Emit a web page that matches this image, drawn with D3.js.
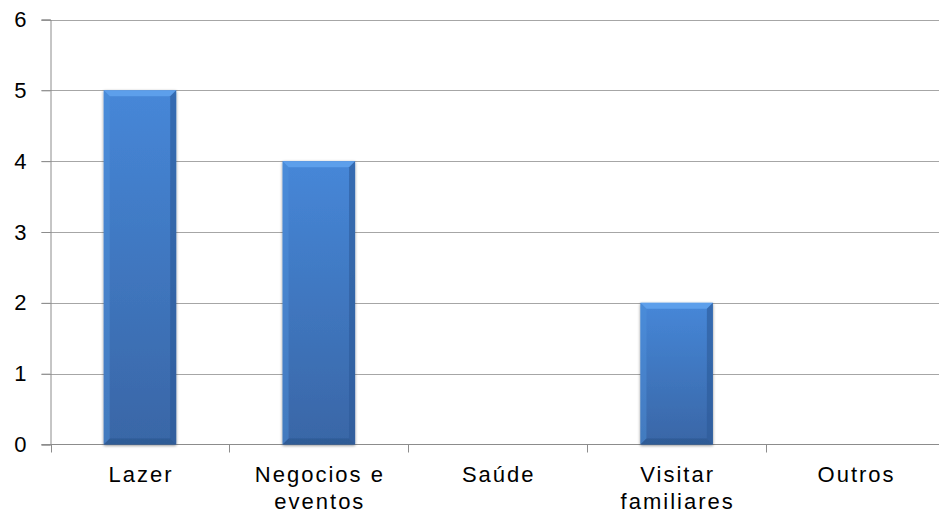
<!DOCTYPE html>
<html><head><meta charset="utf-8">
<script src="https://cdn.jsdelivr.net/npm/d3@7"></script>
<style>
html,body{margin:0;padding:0;background:#fff;overflow:hidden;}
svg{display:block;font-family:"Liberation Sans",Arial,sans-serif;}
</style></head>
<body>
<svg id="chart" width="939" height="513"></svg>
<script>
const categories = ["Lazer", "Negocios e eventos", "Saúde", "Visitar familiares", "Outros"];
const values = [5, 4, 0, 2, 0];
const yTicks = [0, 1, 2, 3, 4, 5, 6];

const svg = d3.select("#chart");
const m = {left: 50.5, top: 19.5, right: 945, bottom: 444.5};

const x = d3.scaleBand().domain(categories).range([m.left, m.right]).paddingInner(0.595).paddingOuter(0.2975);
const xb = d3.scaleBand().domain(categories).range([m.left, m.right]);
const y = d3.scaleLinear().domain([0, 6]).range([m.bottom, m.top]);

const defs = svg.append("defs");
const g1 = defs.append("linearGradient").attr("id", "body").attr("x1", 0).attr("x2", 0).attr("y1", 0).attr("y2", 1);
g1.append("stop").attr("offset", "0%").attr("stop-color", "#4687d8");
g1.append("stop").attr("offset", "100%").attr("stop-color", "#3966a6");
const f = defs.append("filter").attr("id", "sh").attr("x", "-20%").attr("y", "-20%").attr("width", "140%").attr("height", "140%");
f.append("feGaussianBlur").attr("in", "SourceAlpha").attr("stdDeviation", 1.6).attr("result", "b");
f.append("feOffset").attr("in", "b").attr("dx", 0).attr("dy", 0.5).attr("result", "o");
f.append("feComponentTransfer").attr("in", "o").attr("result", "o2")
  .append("feFuncA").attr("type", "linear").attr("slope", 0.45);
const mg = f.append("feMerge");
mg.append("feMergeNode").attr("in", "o2");
mg.append("feMergeNode").attr("in", "SourceGraphic");

// gridlines
svg.append("g").selectAll("line").data(yTicks.filter(d => d > 0)).join("line")
  .attr("x1", m.left - 9).attr("x2", 939)
  .attr("y1", d => Math.round(y(d)) + 0.5).attr("y2", d => Math.round(y(d)) + 0.5)
  .attr("stroke", "#a6a6a6").attr("stroke-width", 1);

// y axis
const yAxis = d3.axisLeft(y).tickValues(yTicks).tickSize(9).tickPadding(15).tickFormat(d3.format("d"));
const ya = svg.append("g").attr("transform", `translate(${m.left},0)`).call(yAxis);
ya.attr("font-size", null).attr("font-family", null);
ya.select(".domain").attr("stroke", "#8c8c8c");
ya.selectAll(".tick line").attr("stroke", "#8c8c8c");
ya.selectAll(".tick text").style("font-size", "22px").attr("fill", "#000")
  .style("font-family", "Liberation Sans, Arial, sans-serif");

// x axis line + category separators
const xa = svg.append("g").attr("transform", `translate(0,${m.bottom})`);
xa.append("line").attr("x1", m.left - 9).attr("x2", 939).attr("y1", 0).attr("y2", 0).attr("stroke", "#8c8c8c");
const seps = categories.map(c => xb(c)).concat([m.right]);
xa.selectAll("line.sep").data(seps).join("line").attr("class", "sep")
  .attr("x1", d => Math.round(d) + 0.5).attr("x2", d => Math.round(d) + 0.5)
  .attr("y1", 0).attr("y2", 8).attr("stroke", "#8c8c8c");

// labels with wrapping
const LS = 2;
function wrapLines(text, maxW) {
  const words = text.split(" ");
  const lines = [];
  let cur = "";
  const tmp = svg.append("text").style("font-size", "22px").attr("letter-spacing", LS);
  words.forEach(w => {
    const t = cur ? cur + " " + w : w;
    tmp.text(t);
    if (tmp.node().getComputedTextLength() > maxW && cur) { lines.push(cur); cur = w; }
    else cur = t;
  });
  lines.push(cur);
  tmp.remove();
  return lines;
}
const lab = svg.append("g");
categories.forEach(c => {
  const lines = wrapLines(c, 160);
  const cx = xb(c) + xb.bandwidth() / 2;
  const t = lab.append("text").attr("x", cx).attr("y", 482)
    .attr("text-anchor", "middle").style("font-size", "22px").attr("fill", "#000").attr("letter-spacing", LS);
  lines.forEach((l, i) => t.append("tspan").attr("x", cx + LS / 2).attr("dy", i ? 27 : 0).text(l));
});

// bars with bevel
const bars = svg.append("g");
categories.forEach((c, i) => {
  const v = values[i];
  if (!v) return;
  const x0 = x(c), x1 = x(c) + x.bandwidth(), y0 = y(v), y1 = y(0);
  const b = 6;
  const g = bars.append("g").attr("filter", "url(#sh)");
  g.append("rect").attr("x", x0).attr("y", y0).attr("width", x1 - x0).attr("height", y1 - y0).attr("fill", "url(#body)");
  g.append("polygon").attr("points", `${x0},${y0} ${x1},${y0} ${x1 - b},${y0 + b} ${x0 + b},${y0 + b}`).attr("fill", "#62a3ee").attr("opacity", 0.85);
  g.append("polygon").attr("points", `${x0},${y0} ${x0 + b},${y0 + b} ${x0 + b},${y1 - b} ${x0},${y1}`).attr("fill", "#5092dc").attr("opacity", 0.45);
  g.append("polygon").attr("points", `${x1},${y0} ${x1 - b},${y0 + b} ${x1 - b},${y1 - b} ${x1},${y1}`).attr("fill", "#2c5a98").attr("opacity", 0.6);
  g.append("polygon").attr("points", `${x0},${y1} ${x0 + b},${y1 - b} ${x1 - b},${y1 - b} ${x1},${y1}`).attr("fill", "#2a548c").attr("opacity", 0.6);
});
</script>
</body></html>
